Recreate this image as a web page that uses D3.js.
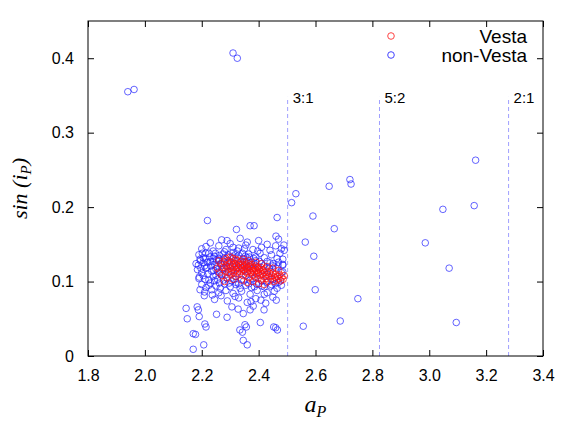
<!DOCTYPE html>
<html><head><meta charset="utf-8">
<script src="https://cdn.jsdelivr.net/npm/d3@7"></script>
<style>
body{margin:0;background:#fff;}
svg{display:block;}
text{font-family:"Liberation Sans",Arial,sans-serif;}
</style></head>
<body><svg id="c" width="576" height="432"></svg>
<script>
// ---- data ----
const xTicks = [1.8, 2.0, 2.2, 2.4, 2.6, 2.8, 3.0, 3.2, 3.4];
const yTicks = [0, 0.1, 0.2, 0.3, 0.4];
const resonanceA = [2.502, 2.825, 3.279];
const resonanceLabels = ["3:1", "5:2", "2:1"];
const seriesNames = ["Vesta", "non-Vesta"];

// non-Vesta (a_P, sin i_P)
const nonVesta = [
 [1.94,0.355],[1.962,0.358],[2.31,0.407],[2.325,0.40],
 [2.721,0.237],[2.725,0.231],[2.648,0.228],[2.531,0.218],[2.516,0.206],[2.591,0.188],
 [2.666,0.171],[2.564,0.153],[2.594,0.134],[2.489,0.149],[2.49,0.142],
 [2.485,0.13],[2.485,0.123],[2.485,0.113],[2.599,0.089],[2.749,0.077],[2.687,0.047],[2.557,0.040],
 [3.163,0.263],[3.158,0.202],[3.048,0.197],[2.986,0.152],[3.07,0.118],[3.095,0.045],
 [2.22,0.182],[2.465,0.186],[2.37,0.175],[2.384,0.175],[2.322,0.170],[2.461,0.161],[2.289,0.155],
 [2.35,0.144],[2.397,0.141],[2.214,0.138],[2.194,0.13],[2.191,0.106],[2.194,0.089],[2.209,0.081],
 [2.237,0.082],[2.268,0.081],[2.317,0.080],[2.373,0.073],[2.408,0.075],[2.42,0.083],[2.462,0.075],
 [2.145,0.064],[2.184,0.066],[2.188,0.062],[2.306,0.066],[2.328,0.063],[2.346,0.057],[2.37,0.062],
 [2.381,0.067],[2.419,0.062],[2.149,0.050],[2.191,0.053],[2.252,0.056],[2.289,0.052],[2.211,0.043],
 [2.215,0.039],[2.352,0.042],[2.357,0.039],[2.406,0.045],[2.453,0.039],[2.46,0.038],[2.17,0.030],
 [2.334,0.035],[2.178,0.029],[2.17,0.009],[2.207,0.015],[2.343,0.032],[2.346,0.021],[2.36,0.015],[2.466,0.035],
 // dense cluster
 [2.23,0.152],[2.27,0.156],[2.30,0.151],[2.335,0.158],[2.36,0.153],[2.40,0.155],[2.43,0.150],[2.47,0.157],
 [2.20,0.144],[2.215,0.147],[2.24,0.141],[2.26,0.148],[2.285,0.143],[2.31,0.146],[2.325,0.141],[2.355,0.149],
 [2.38,0.143],[2.41,0.146],[2.44,0.142],[2.46,0.148],[2.48,0.144],
 [2.19,0.136],[2.205,0.132],[2.225,0.138],[2.245,0.134],[2.26,0.131],[2.275,0.137],[2.29,0.133],[2.31,0.139],
 [2.33,0.135],[2.345,0.131],[2.365,0.137],[2.39,0.133],[2.405,0.138],[2.42,0.132],[2.445,0.136],[2.465,0.131],[2.475,0.138],
 [2.18,0.124],[2.195,0.128],[2.21,0.121],[2.23,0.127],[2.245,0.123],[2.26,0.129],[2.27,0.122],[2.28,0.126],
 [2.30,0.121],[2.315,0.128],[2.33,0.123],[2.35,0.127],[2.37,0.122],[2.39,0.128],[2.41,0.124],[2.43,0.127],
 [2.45,0.121],[2.47,0.126],[2.485,0.122],
 [2.185,0.116],[2.20,0.112],[2.215,0.118],[2.235,0.114],[2.25,0.117],[2.265,0.111],[2.28,0.119],[2.295,0.113],
 [2.31,0.116],[2.325,0.111],[2.34,0.118],[2.36,0.113],[2.38,0.117],[2.395,0.111],[2.415,0.116],[2.44,0.114],
 [2.46,0.118],[2.48,0.112],
 [2.19,0.104],[2.205,0.108],[2.225,0.102],[2.24,0.107],[2.255,0.103],[2.27,0.109],[2.29,0.104],[2.305,0.101],
 [2.32,0.107],[2.34,0.103],[2.355,0.108],[2.37,0.102],[2.39,0.106],[2.41,0.101],[2.425,0.107],[2.45,0.103],[2.47,0.099],
 [2.20,0.096],[2.215,0.092],[2.23,0.098],[2.25,0.094],[2.265,0.091],[2.28,0.097],[2.30,0.093],[2.32,0.096],
 [2.335,0.091],[2.355,0.095],[2.375,0.092],[2.40,0.097],[2.42,0.093],[2.445,0.096],[2.465,0.091],[2.48,0.095],
 [2.21,0.086],[2.235,0.089],[2.26,0.085],[2.285,0.088],[2.31,0.084],[2.34,0.087],[2.37,0.083],[2.395,0.088],
 [2.43,0.085],[2.455,0.087],
 [2.245,0.076],[2.29,0.074],[2.33,0.078],[2.36,0.072],[2.39,0.077],[2.425,0.071],[2.45,0.079],
 [2.22,0.126],[2.24,0.131],[2.25,0.108],[2.29,0.125],[2.32,0.099],[2.35,0.115],[2.38,0.104],[2.40,0.120],
 [2.43,0.110],[2.46,0.105],[2.28,0.140],[2.33,0.145],[2.44,0.125],[2.255,0.12],[2.36,0.132],
 [2.205,0.125],[2.212,0.131],[2.218,0.119],[2.222,0.11],[2.228,0.133],[2.232,0.121],[2.238,0.127],[2.242,0.115],
 [2.248,0.138],[2.252,0.129],[2.258,0.113],[2.262,0.135],[2.266,0.124],[2.273,0.117],[2.277,0.131],[2.283,0.109],
 [2.287,0.121],[2.293,0.136],[2.298,0.127],[2.303,0.114],[2.307,0.133],[2.313,0.124],[2.318,0.136],[2.323,0.118],
 [2.328,0.131],[2.337,0.126],[2.343,0.138],[2.348,0.122],[2.353,0.134],[2.358,0.127],[2.364,0.119],[2.368,0.133],
 [2.374,0.126],[2.383,0.131],[2.388,0.124],[2.393,0.097],[2.403,0.127],[2.412,0.094],[2.418,0.121],[2.428,0.099],
 [2.437,0.118],[2.442,0.094],[2.452,0.124],[2.458,0.097],[2.468,0.121],[2.476,0.101],[2.225,0.095],[2.245,0.101],
 [2.262,0.098],[2.276,0.102],[2.296,0.098],[2.314,0.103],[2.33,0.097],[2.348,0.101],[2.365,0.097],[2.385,0.093],
 [2.212,0.103],[2.197,0.118],[2.188,0.122],[2.202,0.138]
];

// Vesta family (a_P, sin i_P)
const vesta = [
 [2.255,0.118],[2.262,0.112],[2.268,0.124],[2.271,0.108],[2.275,0.119],[2.279,0.127],[2.282,0.114],[2.285,0.121],
 [2.288,0.105],[2.29,0.117],[2.292,0.128],[2.295,0.112],[2.297,0.123],[2.30,0.118],[2.302,0.109],[2.304,0.126],
 [2.306,0.115],[2.308,0.121],[2.31,0.131],[2.312,0.112],[2.314,0.119],[2.316,0.124],[2.318,0.107],[2.32,0.116],
 [2.322,0.122],[2.324,0.128],[2.326,0.113],[2.328,0.119],[2.33,0.125],[2.332,0.11],[2.334,0.117],[2.336,0.121],
 [2.338,0.127],[2.34,0.114],[2.342,0.119],[2.344,0.123],[2.346,0.108],[2.348,0.116],[2.35,0.12],[2.352,0.126],
 [2.354,0.113],[2.356,0.118],[2.358,0.122],[2.36,0.111],[2.362,0.117],[2.364,0.124],[2.366,0.105],[2.368,0.115],
 [2.37,0.12],[2.372,0.112],[2.374,0.118],[2.376,0.123],[2.378,0.109],[2.38,0.115],[2.382,0.119],[2.384,0.113],
 [2.386,0.106],[2.388,0.117],[2.39,0.121],[2.392,0.11],[2.394,0.115],[2.396,0.119],[2.398,0.104],[2.40,0.112],
 [2.402,0.117],[2.404,0.108],[2.406,0.114],[2.408,0.119],[2.41,0.102],[2.412,0.11],[2.415,0.115],[2.418,0.107],
 [2.42,0.112],[2.423,0.117],[2.426,0.104],[2.428,0.109],[2.431,0.113],[2.434,0.10],[2.436,0.107],[2.44,0.111],
 [2.443,0.103],[2.446,0.108],[2.45,0.112],[2.453,0.10],[2.456,0.106],[2.46,0.11],[2.463,0.102],[2.467,0.107],
 [2.47,0.104],[2.474,0.109],[2.478,0.101],[2.482,0.106],[2.486,0.103],[2.49,0.108],
 [2.285,0.131],[2.30,0.133],[2.32,0.13],[2.345,0.13],[2.365,0.128],[2.39,0.126],[2.41,0.124],[2.43,0.12],
 [2.45,0.118],[2.47,0.115],[2.26,0.128],[2.28,0.10],[2.31,0.103],[2.34,0.102],[2.36,0.099],[2.38,0.10],
 [2.40,0.097],[2.42,0.096]
];

// ---- layout ----
const W = 576, H = 432;
const m = {l: 88, r: 33, t: 21, b: 76};
const svg = d3.select("#c");
const x = d3.scaleLinear().domain([1.8, 3.4]).range([m.l, W - m.r]);
const y = d3.scaleLinear().domain([0, 0.45]).range([H - m.b, m.t]);
const tickLen = 6;

// resonance lines
const res = svg.append("g");
res.selectAll("line").data(resonanceA).join("line")
  .attr("x1", d => x(d)).attr("x2", d => x(d))
  .attr("y1", y(0)).attr("y2", y(0.348))
  .attr("stroke", "#9f9fff").attr("stroke-width", 1).attr("stroke-dasharray", "4,3");
res.selectAll("text").data(resonanceA).join("text")
  .attr("x", d => x(d) + 5).attr("y", y(0.348) + 6)
  .attr("font-size", 15).attr("fill", "#000")
  .text((d, i) => resonanceLabels[i]);

// axes
const axB = svg.append("g").attr("transform", `translate(0,${y(0)})`)
  .call(d3.axisBottom(x).tickValues(xTicks).tickFormat(d3.format(".1f")).tickSizeInner(-tickLen).tickSizeOuter(0).tickPadding(14));
const axT = svg.append("g").attr("transform", `translate(0,${y(0.45)})`)
  .call(d3.axisTop(x).tickValues(xTicks).tickFormat("").tickSizeInner(-tickLen).tickSizeOuter(0));
const axL = svg.append("g").attr("transform", `translate(${x(1.8)},0)`)
  .call(d3.axisLeft(y).tickValues(yTicks).tickFormat(d => d === 0 ? "0" : d3.format(".1f")(d)).tickSizeInner(-tickLen).tickSizeOuter(0).tickPadding(14));
const axR = svg.append("g").attr("transform", `translate(${x(3.4)},0)`)
  .call(d3.axisRight(y).tickValues(yTicks).tickFormat("").tickSizeInner(-tickLen).tickSizeOuter(0));
[axB, axT, axL, axR].forEach(g => {
  g.select(".domain").remove();
  g.selectAll(".tick line").attr("stroke", "#000");
  g.selectAll(".tick text").attr("font-size", 16).attr("fill", "#000")
    .style("font-family", '"Liberation Sans",Arial,sans-serif');
});

// points
const pts = svg.append("g");
pts.selectAll("circle.nv").data(nonVesta).join("circle").attr("class", "nv")
  .attr("cx", d => x(d[0])).attr("cy", d => y(d[1])).attr("r", 3.3)
  .attr("fill", "none").attr("stroke", "#2222ff").attr("stroke-opacity", 0.7).attr("stroke-width", 1);
pts.selectAll("circle.v").data(vesta).join("circle").attr("class", "v")
  .attr("cx", d => x(d[0])).attr("cy", d => y(d[1])).attr("r", 3.3)
  .attr("fill", "none").attr("stroke", "#ff1111").attr("stroke-opacity", 0.75).attr("stroke-width", 1);

// frame
svg.append("rect").attr("x", x(1.8)).attr("y", y(0.45))
  .attr("width", x(3.4) - x(1.8)).attr("height", y(0) - y(0.45))
  .attr("fill", "none").attr("stroke", "#000").attr("stroke-width", 1);

// legend
const leg = svg.append("g");
const legColors = ["#ff4444", "#4444ff"];
seriesNames.forEach((name, i) => {
  const yy = 36 + i * 19;
  leg.append("circle").attr("cx", 391).attr("cy", yy).attr("r", 3.3)
    .attr("fill", "none").attr("stroke", legColors[i]).attr("stroke-width", 1);
  leg.append("text").attr("x", 527).attr("y", yy + 6.5).attr("text-anchor", "end")
    .attr("font-size", 19).attr("fill", "#000").text(name);
});

// axis titles
const xl = svg.append("text").attr("x", (x(1.8) + x(3.4)) / 2).attr("y", 412)
  .attr("text-anchor", "middle").attr("font-size", 24)
  .style("font-family", '"Liberation Serif","Times New Roman",serif').style("font-style", "italic");
xl.append("tspan").text("a");
xl.append("tspan").attr("font-size", 16).attr("dy", 5).text("P");

const yl = svg.append("text").attr("transform", `translate(27,${(y(0) + y(0.45)) / 2}) rotate(-90)`)
  .attr("text-anchor", "middle").attr("font-size", 22)
  .style("font-family", '"Liberation Serif","Times New Roman",serif').style("font-style", "italic");
yl.append("tspan").text("sin (i");
yl.append("tspan").attr("font-size", 15).attr("dy", 4).text("P");
yl.append("tspan").attr("dy", -4).text(")");
</script></body></html>
